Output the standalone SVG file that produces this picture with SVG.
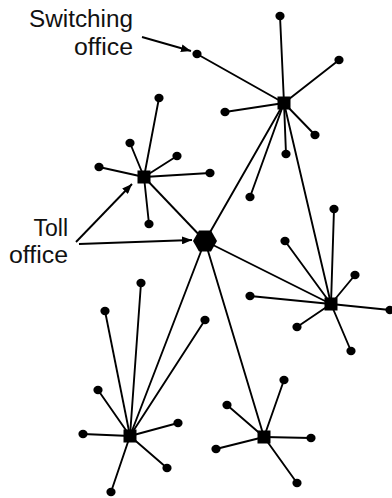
<svg xmlns="http://www.w3.org/2000/svg" width="392" height="498" viewBox="0 0 392 498">
<style>
.c line{stroke:#000;stroke-width:1.9;stroke-linecap:round}
.a{stroke:#000;stroke-width:1.9;fill:none}
.d ellipse{fill:#000}
.hub{fill:#000}
.t{font-family:"Liberation Sans",Arial,sans-serif;font-size:23px;fill:#111;text-anchor:end}
</style>
<defs>
<marker id="ah" viewBox="0 0 10 8" refX="10" refY="4" markerWidth="10" markerHeight="8" markerUnits="userSpaceOnUse" orient="auto">
<path d="M0,0 L10,4 L0,8 z" fill="#000"/>
</marker>
</defs>
<rect width="392" height="498" fill="#fff"/>
<g id="connectors" class="c">
<line x1="284" y1="103" x2="280" y2="16"/>
<line x1="284" y1="103" x2="339" y2="60"/>
<line x1="284" y1="103" x2="197" y2="54"/>
<line x1="284" y1="103" x2="225" y2="112"/>
<line x1="284" y1="103" x2="315" y2="135"/>
<line x1="284" y1="103" x2="286" y2="154"/>
<line x1="284" y1="103" x2="250" y2="197"/>
<line x1="284" y1="103" x2="205" y2="241"/>
<line x1="284" y1="103" x2="331" y2="304"/>
<line x1="144" y1="177" x2="159" y2="98"/>
<line x1="144" y1="177" x2="130" y2="143"/>
<line x1="144" y1="177" x2="177" y2="156"/>
<line x1="144" y1="177" x2="99" y2="167"/>
<line x1="144" y1="177" x2="210" y2="173"/>
<line x1="144" y1="177" x2="149" y2="224"/>
<line x1="144" y1="177" x2="205" y2="241"/>
<line x1="331" y1="304" x2="334" y2="209"/>
<line x1="331" y1="304" x2="285" y2="241"/>
<line x1="331" y1="304" x2="355" y2="275"/>
<line x1="331" y1="304" x2="250" y2="296"/>
<line x1="331" y1="304" x2="390" y2="310"/>
<line x1="331" y1="304" x2="297" y2="327"/>
<line x1="331" y1="304" x2="351" y2="351"/>
<line x1="331" y1="304" x2="205" y2="241"/>
<line x1="130" y1="436" x2="141" y2="283"/>
<line x1="130" y1="436" x2="105" y2="311"/>
<line x1="130" y1="436" x2="98" y2="390"/>
<line x1="130" y1="436" x2="83" y2="434"/>
<line x1="130" y1="436" x2="178" y2="423"/>
<line x1="130" y1="436" x2="167" y2="468"/>
<line x1="130" y1="436" x2="111" y2="492"/>
<line x1="130" y1="436" x2="205" y2="320"/>
<line x1="130" y1="436" x2="205" y2="241"/>
<line x1="264" y1="437" x2="284" y2="380"/>
<line x1="264" y1="437" x2="227" y2="405"/>
<line x1="264" y1="437" x2="311" y2="438"/>
<line x1="264" y1="437" x2="216" y2="449"/>
<line x1="264" y1="437" x2="297" y2="483"/>
<line x1="264" y1="437" x2="205" y2="241"/>
</g>
<g id="labels-arrows">
<line class="a" x1="142" y1="37" x2="191" y2="51" marker-end="url(#ah)"/>
<line class="a" x1="76" y1="242" x2="132" y2="184" marker-end="url(#ah)"/>
<line class="a" x1="79" y1="244" x2="192" y2="240" marker-end="url(#ah)"/>
</g>
<g id="top-office" class="d">
<rect class="hub" x="277.5" y="96.5" width="13" height="13"/>
<ellipse cx="280" cy="16" rx="4.6" ry="4.2"/>
<ellipse cx="339" cy="60" rx="4.6" ry="4.2"/>
<ellipse cx="197" cy="54" rx="4.6" ry="4.2"/>
<ellipse cx="225" cy="112" rx="4.6" ry="4.2"/>
<ellipse cx="315" cy="135" rx="4.6" ry="4.2"/>
<ellipse cx="286" cy="154" rx="4.6" ry="4.2"/>
<ellipse cx="250" cy="197" rx="4.6" ry="4.2"/>
</g>
<g id="left-office" class="d">
<rect class="hub" x="137.5" y="170.5" width="13" height="13"/>
<ellipse cx="159" cy="98" rx="4.6" ry="4.2"/>
<ellipse cx="130" cy="143" rx="4.6" ry="4.2"/>
<ellipse cx="177" cy="156" rx="4.6" ry="4.2"/>
<ellipse cx="99" cy="167" rx="4.6" ry="4.2"/>
<ellipse cx="210" cy="173" rx="4.6" ry="4.2"/>
<ellipse cx="149" cy="224" rx="4.6" ry="4.2"/>
</g>
<g id="right-office" class="d">
<rect class="hub" x="324.5" y="297.5" width="13" height="13"/>
<ellipse cx="334" cy="209" rx="4.6" ry="4.2"/>
<ellipse cx="285" cy="241" rx="4.6" ry="4.2"/>
<ellipse cx="355" cy="275" rx="4.6" ry="4.2"/>
<ellipse cx="250" cy="296" rx="4.6" ry="4.2"/>
<ellipse cx="390" cy="310" rx="4.6" ry="4.2"/>
<ellipse cx="297" cy="327" rx="4.6" ry="4.2"/>
<ellipse cx="351" cy="351" rx="4.6" ry="4.2"/>
</g>
<g id="bottom-left-office" class="d">
<rect class="hub" x="123.5" y="429.5" width="13" height="13"/>
<ellipse cx="141" cy="283" rx="4.6" ry="4.2"/>
<ellipse cx="105" cy="311" rx="4.6" ry="4.2"/>
<ellipse cx="98" cy="390" rx="4.6" ry="4.2"/>
<ellipse cx="83" cy="434" rx="4.6" ry="4.2"/>
<ellipse cx="178" cy="423" rx="4.6" ry="4.2"/>
<ellipse cx="167" cy="468" rx="4.6" ry="4.2"/>
<ellipse cx="111" cy="492" rx="4.6" ry="4.2"/>
<ellipse cx="205" cy="320" rx="4.6" ry="4.2"/>
</g>
<g id="bottom-right-office" class="d">
<rect class="hub" x="257.5" y="430.5" width="13" height="13"/>
<ellipse cx="284" cy="380" rx="4.6" ry="4.2"/>
<ellipse cx="227" cy="405" rx="4.6" ry="4.2"/>
<ellipse cx="311" cy="438" rx="4.6" ry="4.2"/>
<ellipse cx="216" cy="449" rx="4.6" ry="4.2"/>
<ellipse cx="297" cy="483" rx="4.6" ry="4.2"/>
</g>
<g id="toll-office">
<polygon class="hub" points="193,241 199,230.5 211,230.5 217,241 211,251.5 199,251.5"/>
</g>
<g id="label-switching">
<text class="t" x="133" y="27" textLength="104" lengthAdjust="spacingAndGlyphs">Switching</text>
<text class="t" x="133" y="55" textLength="59" lengthAdjust="spacingAndGlyphs">office</text>
</g>
<g id="label-toll">
<text class="t" x="68" y="236">Toll</text>
<text class="t" x="68" y="263" textLength="59" lengthAdjust="spacingAndGlyphs">office</text>
</g>
</svg>
